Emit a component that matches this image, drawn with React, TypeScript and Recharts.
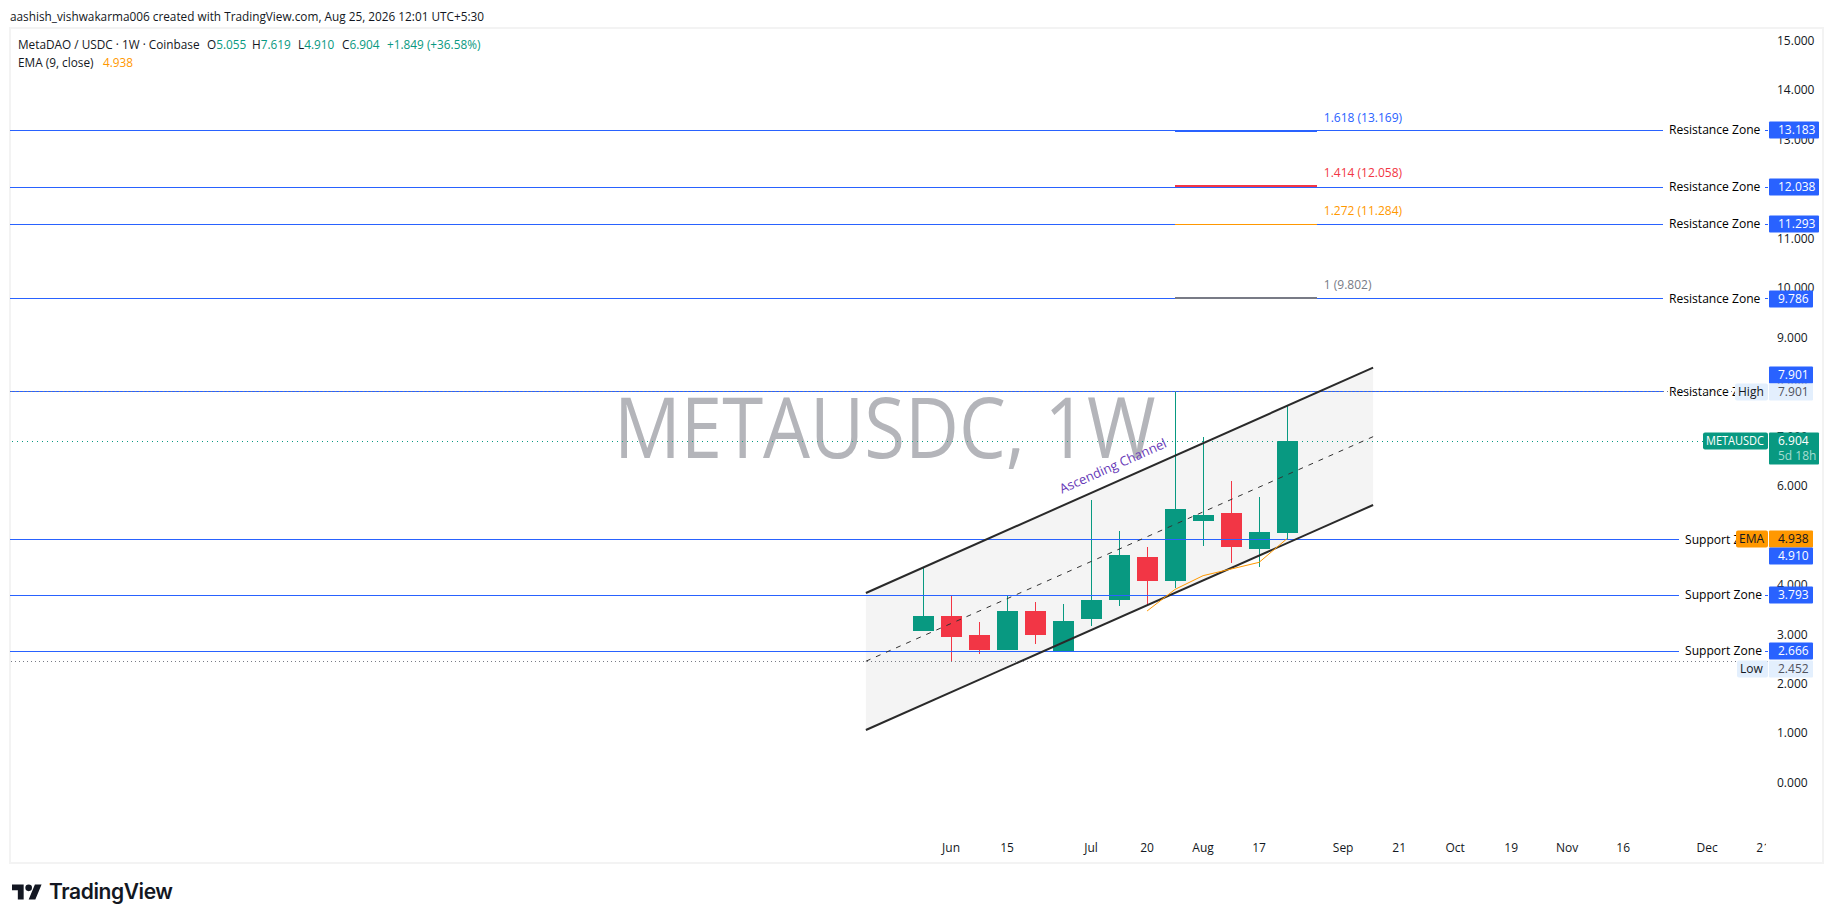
import React from 'react';
import { Area, Bar, ComposedChart, Line, ReferenceDot, ReferenceLine, XAxis, YAxis } from 'recharts';

const FONT = '"Open Sans", sans-serif';
const GREEN = '#089981';
const RED = '#F23645';
const BLUE = '#2962FF';
const ORANGE = '#FF9800';
const INK = '#131722';
const PALE = '#E3EFFD';

// weekly candles, week 0 is the first candle (25 May)
const weeks = [0, 1, 2, 3, 4, 5, 6, 7, 8, 9, 10, 11, 12, 13];
const opens = [3.071, 3.374, 2.99, 2.687, 3.475, 2.667, 3.313, 3.697, 4.566, 4.081, 5.293, 5.455, 4.727, 5.055];
const highs = [4.357, 3.778, 3.253, 3.778, 3.657, 3.616, 5.717, 5.091, 4.768, 7.901, 6.99, 6.101, 5.778, 7.619];
const lows = [3.071, 2.452, 2.606, 2.687, 2.808, 2.667, 3.172, 3.576, 3.596, 3.939, 4.788, 4.444, 4.364, 4.91];
const closes = [3.374, 2.949, 2.687, 3.475, 2.99, 3.273, 3.697, 4.606, 4.081, 5.535, 5.414, 4.768, 5.071, 6.904];
const emaValues = [null, null, null, null, null, null, null, null, 3.475, 3.912, 4.189, 4.323, 4.458, 4.938];

// ascending channel drawing
const channelWeeks = [-2.04, 16.07];
const channelUpper = [3.838, 8.391];
const channelMiddle = [2.46, 6.997];
const channelLower = [1.071, 5.616];

const resistanceLevels = [13.183, 12.038, 11.293, 9.786, 7.901];
const supportLevels = [4.91, 3.793, 2.666];

const fibWeeks = [9, 14.06];
const fibRatios = ['1.618', '1.414', '1.272', '1'];
const fibPrices = [13.169, 12.058, 11.284, 9.802];
const fibColors = [BLUE, RED, ORANGE, '#787B86'];
const fibWidths = [2, 2, 1, 2];

const priceTicks = [0, 1, 2, 3, 4, 5, 6, 7, 8, 9, 10, 11, 12, 13, 14, 15];
const timeTicks = [1, 3, 6, 8, 10, 12, 15, 17, 19, 21, 23, 25, 28, 30];
const timeLabels = ['Jun', '15', 'Jul', '20', 'Aug', '17', 'Sep', '21', 'Oct', '19', 'Nov', '16', 'Dec', '21'];

const HIGH_PRICE = 7.901;
const LOW_PRICE = 2.452;
const LAST_PRICE = 6.904;
const EMA_PRICE = 4.938;
const tagPrices = [13.183, 12.038, 11.293, 9.786, HIGH_PRICE, LAST_PRICE, EMA_PRICE, 4.91, 3.793, 2.666, LOW_PRICE];

const Y_DOMAIN = [-0.99, 15.253];

const candles = weeks.map((week, i) => ({
  week,
  open: opens[i],
  high: highs[i],
  low: lows[i],
  close: closes[i],
  ema: emaValues[i],
}));

const channelBand = channelWeeks.map((week, i) => ({ week, band: [channelLower[i], channelUpper[i]] }));
const channelTop = channelWeeks.map((week, i) => ({ week, value: channelUpper[i] }));
const channelMid = channelWeeks.map((week, i) => ({ week, value: channelMiddle[i] }));
const channelBottom = channelWeeks.map((week, i) => ({ week, value: channelLower[i] }));

const AXIS_X = 1769;

function Candle(props: any) {
  const { x, y, width, height, payload } = props;
  const { open, high, low, close } = payload;
  const k = height / (high - low);
  const top = y + (high - Math.max(open, close)) * k;
  const bodyH = Math.abs(close - open) * k;
  const color = close >= open ? GREEN : RED;
  const cx = Math.floor(x + width / 2);
  return (
    <g shapeRendering="crispEdges">
      <rect x={cx} y={y} width={1} height={height} fill={color} />
      <rect x={cx - 10} y={top} width={21} height={bodyH} fill={color} />
    </g>
  );
}

function ZoneLabel({ viewBox, text, start }: any) {
  const y = viewBox.y;
  return (
    <g>
      <rect x={start} y={y - 2} width={1765 - start} height={4} fill="#fff" />
      <text x={start + 6} y={y + 4} fontSize={12.1} fontFamily={FONT} fill="#000">{text}</text>
    </g>
  );
}

function Tag({ y, text, fill, color, w = 44, side, sideW, sideFill, sideColor, sideLen, sub }: any) {
  return (
    <g fontFamily={FONT} fontSize={12}>
      {side && <rect x={AXIS_X - sideW - 1} y={y - 8.5} width={sideW} height={17} rx={2} fill={sideFill} />}
      {side && (
        <text x={AXIS_X - sideW + 2} y={y + 4} fill={sideColor} textLength={sideLen} lengthAdjust="spacingAndGlyphs">
          {side}
        </text>
      )}
      <rect x={AXIS_X} y={y - 8.5} width={w} height={sub ? 32 : 17} rx={1} fill={fill} />
      <text x={AXIS_X + 9} y={y + 4} fill={color}>{text}</text>
      {sub && <text x={AXIS_X + 9} y={y + 19} fill="#A5DDD2">{sub}</text>}
    </g>
  );
}

// the tags sit on their own axis so they are painted over the price labels
function TagTick({ y, payload }: any) {
  const price = payload.value;
  const text = price.toFixed(3);
  const py = Math.round(y);
  if (price === HIGH_PRICE) {
    return (
      <g>
        <Tag y={py - 17} text={text} fill={BLUE} color="#fff" />
        <Tag y={py} text={text} fill={PALE} color="#50535E" side="High" sideW={33} sideFill={PALE} sideColor={INK} />
      </g>
    );
  }
  if (price === LOW_PRICE) {
    return <Tag y={py + 7} text={text} fill={PALE} color="#50535E" side="Low" sideW={31} sideFill={PALE} sideColor={INK} />;
  }
  if (price === LAST_PRICE) {
    return (
      <Tag y={py} text={text} sub="5d 18h" fill={GREEN} color="#fff" w={50} side="METAUSDC" sideW={65} sideFill={GREEN} sideColor="#fff" sideLen={58} />
    );
  }
  if (price === EMA_PRICE) {
    return <Tag y={py} text={text} fill={ORANGE} color={INK} side="EMA" sideW={32} sideFill={ORANGE} sideColor={INK} />;
  }
  if (price === supportLevels[0]) {
    return <Tag y={py + 16} text={text} fill={BLUE} color="#fff" />;
  }
  return <Tag y={py} text={text} fill={BLUE} color="#fff" w={price >= 10 ? 50 : 44} />;
}

function PriceTick({ y, payload }: any) {
  return (
    <text x={1777} y={y + 4} fontSize={12} fontFamily={FONT} fill={INK}>{payload.value.toFixed(3)}</text>
  );
}

function TimeTick({ x, payload, index }: any) {
  const id = `time-clip-${index}`;
  return (
    <g>
      <clipPath id={id}><rect x={0} y={0} width={1766} height={923} /></clipPath>
      <text x={x} y={852} clipPath={`url(#${id})`} textAnchor="middle" fontSize={12} fontFamily={FONT} fill={INK}>
        {timeLabels[timeTicks.indexOf(payload.value)]}
      </text>
    </g>
  );
}

function Abs({ left, top, color = INK, size = 11.8, weight = 400, children }: any) {
  return (
    <div style={{ position: 'absolute', left, top, color, fontSize: size, fontWeight: weight, lineHeight: '16px', whiteSpace: 'nowrap' }}>
      {children}
    </div>
  );
}

export default function App() {
  return (
    <div style={{ position: 'absolute', left: 0, top: 0, width: 1833, height: 923, background: '#fff', overflow: 'hidden', fontFamily: FONT }}>
      <Abs left={10} top={8}>aashish_vishwakarma006 created with TradingView.com, Aug 25, 2026 12:01 UTC+5:30</Abs>
      <div style={{ position: 'absolute', left: 9, top: 27, width: 1811, height: 833, border: '2px solid #F3F3F3' }} />
      <div style={{ position: 'absolute', left: 614, top: 376, fontSize: 84, fontWeight: 500, lineHeight: '100px', color: '#B4B5BA', whiteSpace: 'nowrap', transform: 'scaleX(0.885)', transformOrigin: 'left top' }}>METAUSDC, 1W</div>

      <Abs left={18} top={36}>MetaDAO / USDC · 1W · Coinbase</Abs>
      <Abs left={207} top={36}>O<span style={{ color: GREEN }}>5.055</span></Abs>
      <Abs left={252} top={36}>H<span style={{ color: GREEN }}>7.619</span></Abs>
      <Abs left={298} top={36}>L<span style={{ color: GREEN }}>4.910</span></Abs>
      <Abs left={342} top={36}>C<span style={{ color: GREEN }}>6.904</span></Abs>
      <Abs left={387} top={36} color={GREEN}>+1.849 (+36.58%)</Abs>
      <Abs left={18} top={54}>EMA (9, close)</Abs>
      <Abs left={103} top={54} color={ORANGE}>4.938</Abs>

      <svg style={{ position: 'absolute', left: 12, top: 884 }} width={30} height={16} viewBox="0 4 36 18">
        <path d="M14 22H7V11H0V4h14v18zM28 22h-8l7.5-18h8L28 22z" fill="#131722" />
        <circle cx={20} cy={8} r={4} fill="#131722" />
      </svg>
      <Abs left={49} top={882} size={21} weight={600}>
        <span style={{ fontFamily: 'Inter', letterSpacing: -0.4, lineHeight: '20px', color: '#131722' }}>TradingView</span>
      </Abs>

      <div style={{ position: 'absolute', left: 0, top: 0 }}>
        <ComposedChart
          width={1833}
          height={923}
          data={candles}
          margin={{ top: 28, right: 0, bottom: 61, left: 10 }}
        >
          <XAxis
            dataKey="week"
            type="number"
            domain={[-32.6, 30.17]}
            ticks={timeTicks}
            interval={0}
            allowDataOverflow
            axisLine={false}
            tickLine={false}
            height={30}
            tick={<TimeTick />}
          />
          <YAxis
            orientation="right"
            type="number"
            domain={Y_DOMAIN}
            ticks={priceTicks}
            interval={0}
            allowDataOverflow
            axisLine={false}
            tickLine={false}
            width={64}
            tick={<PriceTick />}
          />
          <YAxis
            yAxisId="tags"
            orientation="right"
            type="number"
            domain={Y_DOMAIN}
            ticks={tagPrices}
            interval={0}
            allowDataOverflow
            axisLine={false}
            tickLine={false}
            width={1}
            tick={<TagTick />}
          />

          {resistanceLevels.map((level) => (
            <ReferenceLine
              key={level}
              y={level}
              stroke={BLUE}
              strokeWidth={1}
              shapeRendering="crispEdges"
              label={(p: any) => <ZoneLabel {...p} text="Resistance Zone" start={1663} />}
            />
          ))}
          {supportLevels.map((level) => (
            <ReferenceLine
              key={level}
              y={level}
              stroke={BLUE}
              strokeWidth={1}
              shapeRendering="crispEdges"
              label={(p: any) => <ZoneLabel {...p} text="Support Zone" start={1679} />}
            />
          ))}

          <ReferenceLine y={HIGH_PRICE} stroke="#787B86" strokeWidth={1} strokeDasharray="1 3" shapeRendering="crispEdges" />
          <ReferenceLine y={LOW_PRICE} stroke="#787B86" strokeWidth={1} strokeDasharray="1 3" shapeRendering="crispEdges" />
          <ReferenceLine y={LAST_PRICE} stroke={GREEN} strokeWidth={1} strokeDasharray="1 4" shapeRendering="crispEdges" />

          {fibPrices.map((price, i) => (
            <ReferenceLine
              key={price}
              segment={[{ x: fibWeeks[0], y: price }, { x: fibWeeks[1], y: price }]}
              stroke={fibColors[i]}
              strokeWidth={fibWidths[i]}
              shapeRendering="crispEdges"
            />
          ))}
          {fibPrices.map((price, i) => (
            <ReferenceDot
              key={price}
              x={fibWeeks[1]}
              y={price}
              r={0}
              shape={(p: any) => (
                <text x={p.cx + 7} y={p.cy - 9} fontSize={12} fontFamily={FONT} fill={fibColors[i]}>
                  {`${fibRatios[i]} (${price.toFixed(3)})`}
                </text>
              )}
            />
          ))}

          <Area data={channelBand} dataKey="band" stroke="none" fill="#808080" fillOpacity={0.09} isAnimationActive={false} />
          <Line data={channelMid} dataKey="value" stroke="#333" strokeWidth={1} strokeDasharray="5 6" dot={false} isAnimationActive={false} />
          <Line data={channelTop} dataKey="value" stroke="#2A2A2A" strokeWidth={2} dot={false} isAnimationActive={false} />
          <Line data={channelBottom} dataKey="value" stroke="#2A2A2A" strokeWidth={2} dot={false} isAnimationActive={false} />
          <Bar dataKey={(d: any) => [d.low, d.high]} barSize={21} shape={<Candle />} isAnimationActive={false} />
          <Line dataKey="ema" stroke={ORANGE} strokeWidth={1} dot={false} isAnimationActive={false} />

          <ReferenceDot
            x={6.85}
            y={6.32}
            r={0}
            shape={(p: any) => (
              <text
                x={p.cx}
                y={p.cy}
                textAnchor="middle"
                fontSize={13}
                fontFamily={FONT}
                fill="#673AB7"
                transform={`rotate(-24 ${p.cx} ${p.cy})`}
              >
                Ascending Channel
              </text>
            )}
          />
        </ComposedChart>
      </div>
    </div>
  );
}
